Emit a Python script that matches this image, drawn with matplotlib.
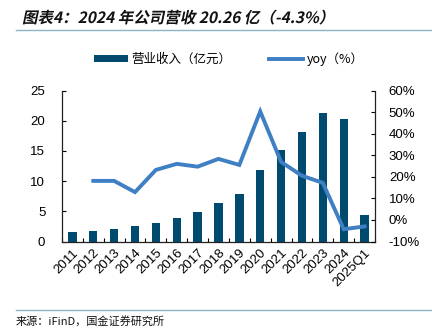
import numpy as np
import matplotlib
matplotlib.use("Agg")
import matplotlib.pyplot as plt
from matplotlib.patches import PathPatch, Patch
from matplotlib.lines import Line2D
from matplotlib.textpath import TextPath
from matplotlib.font_manager import FontProperties
from matplotlib.transforms import Affine2D

plt.rcParams['font.family'] = ['Liberation Sans', 'Noto Sans CJK SC', 'DejaVu Sans']

years = ['2011', '2012', '2013', '2014', '2015', '2016', '2017', '2018',
         '2019', '2020', '2021', '2022', '2023', '2024', '2025Q1']
revenue = [1.6, 1.8, 2.15, 2.5, 3.1, 3.9, 4.85, 6.3, 7.9, 11.9, 15.1, 18.1, 21.3, 20.26, 4.4]
yoy = [np.nan, 18.1, 18.1, 12.9, 23.2, 26.0, 24.7, 28.3, 25.5, 50.3, 26.9, 20.5, 17.2, -4.3, -3.0]

bar_color = '#004a70'
line_color = '#3f7fc3'
rule_color = '#8fb2c4'

fig = plt.figure(figsize=(4.32, 3.28), dpi=100)
ax = fig.add_axes([0.1435, 0.2637, 0.7245, 0.4603])
ax2 = ax.twinx()

x = np.arange(len(years))
ax.bar(x, revenue, width=0.4, color=bar_color, zorder=2)
ax2.plot(x, yoy, color=line_color, lw=2.8, solid_joinstyle='miter', zorder=3)
ax2.set_zorder(ax.get_zorder() + 1)
ax2.patch.set_visible(False)

ax.set_xlim(-0.5, len(years) - 0.5)
ax.set_ylim(0, 25)
ax.set_yticks(range(0, 26, 5))
ax2.set_ylim(-10, 60)
ax2.set_yticks(range(-10, 61, 10))
ax2.set_yticklabels([f'{v}%' for v in range(-10, 61, 10)])

ax.set_xticks(x)
ax.set_xticklabels(years, rotation=45, ha='right', rotation_mode='anchor')
ax.set_xticks(np.arange(-0.5, len(years), 1), minor=True)
ax.tick_params(axis='x', which='major', length=0, pad=4, labelsize=9.5)
ax.tick_params(axis='x', which='minor', direction='in', length=3, width=0.8)
ax.tick_params(axis='y', direction='in', length=3, width=0.8, labelsize=9.5, pad=12)
ax2.tick_params(axis='y', direction='in', length=3, width=0.8, labelsize=9.5, pad=10)

for a in (ax, ax2):
    a.spines['top'].set_visible(False)
    for s in ('left', 'right', 'bottom'):
        a.spines[s].set_linewidth(0.9)
        a.spines[s].set_color('#222222')
ax.spines['right'].set_visible(False)
ax2.spines['left'].set_visible(False)
ax2.spines['bottom'].set_visible(False)

handles = [Patch(facecolor=bar_color, edgecolor='none'),
           Line2D([0], [0], color=line_color, lw=2.8)]
fig.legend(handles, ['营业收入（亿元）', 'yoy（%）'], loc='center',
           bbox_to_anchor=(0.53, 0.82), ncol=2, frameon=False,
           prop=FontProperties(family=['Noto Sans CJK SC'], size=9),
           handlelength=2.7, handleheight=0.6, handletextpad=0.3,
           columnspacing=3.0)

# slanted bold title drawn as a skewed text path (pixel coords)
title_prop = FontProperties(family='Noto Sans CJK SC', weight='bold')
tp = TextPath((0, 0), '图表4：2024 年公司营收 20.26 亿（-4.3%）', size=15.5, prop=title_prop)
tr = Affine2D().skew_deg(12, 0).translate(22, 328 - 23)
fig.patches.append(PathPatch(tr.transform_path(tp), facecolor='#111111',
                             edgecolor='none', transform=None, figure=fig))

fig.add_artist(Line2D([16 / 432, 1], [0.909, 0.909], color=rule_color, lw=1))
fig.add_artist(Line2D([16 / 432, 1], [0.055, 0.055], color=rule_color, lw=1))
fig.text(16 / 432, 0.004, '来源：iFinD，国金证券研究所', fontsize=8,
         family=['Noto Sans CJK SC'], va='bottom', color='#111111')

fig.savefig('out.png', dpi=100)
